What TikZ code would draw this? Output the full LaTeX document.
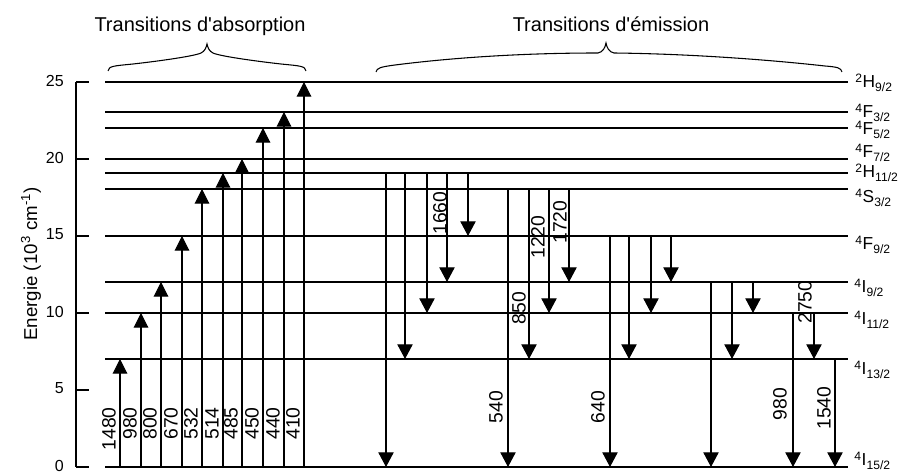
\documentclass[tikz,border=0pt]{standalone}
\usepackage{fontspec}
\setmainfont{Liberation Sans}
\usetikzlibrary{arrows.meta}

\newcommand{\term}[3]{\textsuperscript{#1}#2\textsubscript{#3}}

\tikzset{
  level/.style={line width=1.1pt},
  uparrow/.style={line width=0.8pt,-{Triangle[length=11pt,width=11pt]}},
  downarrow/.style={line width=0.8pt,-{Triangle[length=11pt,width=11.5pt]}},
  wavelab/.style={rotate=90,inner sep=0pt,font=\fontsize{14.5}{16}\selectfont},
  termlab/.style={anchor=base west,inner sep=0pt,font=\fontsize{13}{15}\selectfont},
  title/.style={anchor=base,font=\fontsize{15}{17}\selectfont},
  brace/.style={line width=0.8pt}
}

\begin{document}
\begin{tikzpicture}[x=0.75pt,y=-0.75pt]
\useasboundingbox (0,0) rectangle (903,473);

% energy axis
\draw[line width=0.9pt] (76,82) -- (76,467);
\foreach \e in {0,5,...,25}{
  \draw[line width=0.9pt] (76,{467-15.4*\e}) -- (89,{467-15.4*\e});
  \node[anchor=east,inner sep=0pt,font=\fontsize{12}{14}\selectfont] (tick\e) at (64,{465.5-15.4*\e}) {\e};
}
\node[rotate=90,anchor=base,font=\fontsize{14}{16}\selectfont] (ylab) at (37,264) {Energie (10\textsuperscript{3} cm\textsuperscript{-1})};

% levels
\foreach \py/\nm in {82/H92,112/F32,128/F52,159/F72,173/H112,189/S32,236/F92,282/I92,313/I112,359/I132,467/I152}
  \draw[level] (105,\py) coordinate (\nm) -- (848,\py);

\node[termlab] (tH92) at (855,88) {\term{2}{H}{9/2}};
\node[termlab] (tF32) at (855,118) {\term{4}{F}{3/2}};
\node[termlab] (tF52) at (855,135) {\term{4}{F}{5/2}};
\node[termlab] (tF72) at (855,158) {\term{4}{F}{7/2}};
\node[termlab] (tH112) at (855,178) {\term{2}{H}{11/2}};
\node[termlab] (tS32) at (855,203) {\term{4}{S}{3/2}};
\node[termlab] (tF92) at (855,250) {\term{4}{F}{9/2}};
\node[termlab] (tI92) at (854,293) {\term{4}{I}{9/2}};
\node[termlab] (tI112) at (854,325) {\term{4}{I}{11/2}};
\node[termlab] (tI132) at (854,375) {\term{4}{I}{13/2}};
\node[termlab] (tI152) at (854,466) {\term{4}{I}{15/2}};

% absorption
\foreach \x/\lv/\lab in {120/I132/1480,141/I112/980,161/I92/800,182/F92/670,202/S32/532,223/H112/514,242/F72/485,263/F52/450,284/F32/440,304/H92/410}{
  \draw[uparrow] (\x,0 |- I152) -- (\x,0 |- \lv);
  \node[wavelab,anchor=east] (a\lab) at (\x-11,407) {\lab};
}

% emission
\foreach \x/\from/\to in {386/H112/I152,405/H112/I132,427/H112/I112,447/H112/I92,468/H112/F92,
  508/S32/I152,529/S32/I132,549/S32/I112,569/S32/I92,
  610/F92/I152,629/F92/I132,651/F92/I112,671/F92/I92,
  711/I92/I152,732/I92/I132,753/I92/I112,
  793/I112/I152,814/I112/I132,835/I132/I152}
  \draw[downarrow] (\x,0 |- \from) -- (\x,0 |- \to);

\foreach \cx/\cy/\lab in {440/213/1660,496/407/540,519/308/850,538/237/1220,560/222/1720,598/407/640,780/404/980,805/302/2750,824/408/1540}
  \node[wavelab] (e\lab) at (\cx,\cy) {\lab};

% braces and titles
\draw[brace] (108,71) .. controls (109,66) and (113,66) .. (133,64) .. controls (160,61) and (195,56) .. (201,53)
  .. controls (205,51) and (206,48) .. (207,44) .. controls (208,48) and (209,51) .. (213,53)
  .. controls (219,56) and (254,61) .. (281,64) .. controls (301,66) and (305,66) .. (306,71);
\draw[brace] (376,72) .. controls (377,68) and (380,67) .. (395,65) .. controls (450,58) and (520,53) .. (598,53)
  .. controls (603,52) and (605,48) .. (606,43) .. controls (607,48) and (609,52) .. (614,53)
  .. controls (700,54) and (780,61) .. (825,66) .. controls (838,67) and (841,68) .. (842,72);

\node[title] (tabs) at (200,32) {Transitions d\textquotesingle absorption};
\node[title] (tem) at (611,32) {Transitions d\textquotesingle émission};

\end{tikzpicture}
\end{document}
